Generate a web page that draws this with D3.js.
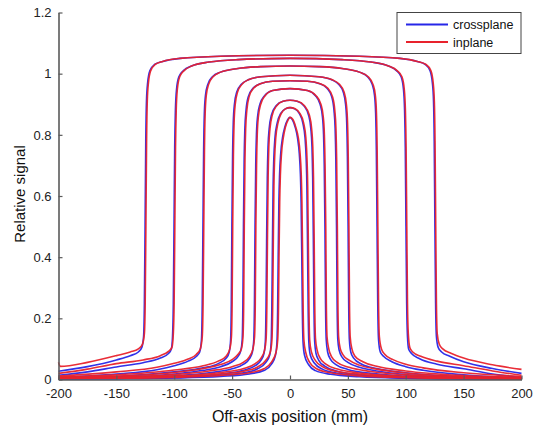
<!DOCTYPE html>
<html><head><meta charset="utf-8">
<script src="https://cdn.jsdelivr.net/npm/d3@7"></script>
<style>html,body{margin:0;padding:0;background:#fff;}svg{display:block;font-family:"Liberation Sans",Arial,sans-serif;}</style>
</head><body><svg id="c" width="535" height="431"></svg>
<script>
// Field sizes (cm) of the measured profiles
const fieldSizes = [25, 20, 15, 10, 8, 6, 4, 3, 2];
const seriesNames = ["crossplane", "inplane"];
const xTicks = [-200, -150, -100, -50, 0, 50, 100, 150, 200];
const yTicks = [0, 0.2, 0.4, 0.6, 0.8, 1, 1.2];

// crossplane profiles: [position mm, relative signal]
const crossplane = [
 [[-200,.027],[-175,.042],[-150,.064],[-138,.078],[-131,.09],[-128,.105],[-126.5,.14],[-125.8,.25],[-125.2,.5],[-124.6,.78],[-124,.91],[-123,.97],[-121,1.01],[-117,1.03],[-110,1.04],[-95,1.05],[-60,1.057],[0,1.06],
  [60,1.057],[95,1.05],[110,1.04],[117,1.03],[121,1.01],[123,.97],[124,.91],[124.6,.78],[125.2,.5],[125.8,.25],[126.5,.14],[128,.105],[131,.09],[138,.076],[150,.058],[175,.036],[200,.020]],
 [[-200,.014],[-175,.025],[-150,.041],[-127,.055],[-112,.07],[-105,.085],[-102.5,.1],[-101.5,.14],[-100.8,.25],[-100.2,.5],[-99.6,.76],[-99,.88],[-98,.95],[-96,.99],[-92,1.01],[-85,1.025],[-70,1.038],[-45,1.046],[0,1.05],
  [45,1.046],[70,1.038],[85,1.025],[92,1.01],[96,.99],[98,.95],[99,.88],[99.6,.76],[100.2,.5],[100.8,.25],[101.5,.14],[102.5,.1],[105,.085],[112,.068],[127,.05],[150,.035],[175,.018],[200,.007]],
 [[-200,.007],[-150,.018],[-115,.032],[-100,.045],[-88,.06],[-81,.075],[-78,.09],[-76.5,.13],[-75.8,.25],[-75.2,.5],[-74.6,.75],[-74,.87],[-73,.93],[-71,.965],[-67,.99],[-60,1.005],[-45,1.017],[-25,1.023],[0,1.025],
  [25,1.023],[45,1.017],[60,1.005],[67,.99],[71,.965],[73,.93],[74,.87],[74.6,.75],[75.2,.5],[75.8,.25],[76.5,.13],[78,.09],[81,.075],[88,.058],[100,.042],[115,.03],[150,.015],[200,.005]],
 [[-200,.005],[-150,.01],[-100,.025],[-75,.038],[-62,.052],[-55,.07],[-52.5,.09],[-51.3,.13],[-50.7,.25],[-50.2,.5],[-49.6,.73],[-49,.84],[-48,.9],[-46,.94],[-42,.965],[-36,.98],[-25,.99],[0,.995],
  [25,.99],[36,.98],[42,.965],[46,.94],[48,.9],[49,.84],[49.6,.73],[50.2,.5],[50.7,.25],[51.3,.13],[52.5,.09],[55,.07],[62,.05],[75,.036],[100,.022],[150,.009],[200,.004]],
 [[-200,.004],[-150,.007],[-100,.018],[-75,.03],[-60,.042],[-50,.058],[-45,.075],[-42.5,.095],[-41.3,.13],[-40.7,.25],[-40.2,.5],[-39.6,.72],[-39,.82],[-38,.88],[-36,.925],[-32,.952],[-25,.968],[-15,.975],[0,.977],
  [15,.975],[25,.968],[32,.952],[36,.925],[38,.88],[39,.82],[39.6,.72],[40.2,.5],[40.7,.25],[41.3,.13],[42.5,.095],[45,.073],[50,.056],[60,.04],[75,.028],[100,.016],[150,.006],[200,.003]],
 [[-200,.003],[-150,.005],[-100,.012],[-70,.022],[-50,.035],[-40,.05],[-35,.068],[-32.5,.09],[-31.3,.13],[-30.7,.25],[-30.2,.5],[-29.6,.7],[-29,.8],[-28,.86],[-26,.9],[-22,.928],[-15,.945],[0,.951],
  [15,.945],[22,.928],[26,.9],[28,.86],[29,.8],[29.6,.7],[30.2,.5],[30.7,.25],[31.3,.13],[32.5,.09],[35,.066],[40,.048],[50,.033],[70,.02],[100,.011],[150,.004],[200,.002]],
 [[-200,.003],[-150,.004],[-100,.008],[-60,.018],[-40,.03],[-30,.045],[-25,.063],[-22.5,.085],[-21.3,.125],[-20.7,.24],[-20.2,.45],[-19.6,.66],[-19,.76],[-18,.82],[-16,.865],[-12,.895],[-6,.91],[0,.913],
  [6,.91],[12,.895],[16,.865],[18,.82],[19,.76],[19.6,.66],[20.2,.45],[20.7,.24],[21.3,.125],[22.5,.085],[25,.062],[30,.044],[40,.028],[60,.016],[100,.007],[150,.003],[200,.002]],
 [[-200,.002],[-150,.003],[-100,.006],[-60,.014],[-40,.022],[-28,.035],[-21,.055],[-17.5,.08],[-16.3,.12],[-15.7,.23],[-15.2,.42],[-14.6,.63],[-14,.72],[-13,.79],[-11,.84],[-8,.87],[-4,.885],[0,.889],
  [4,.885],[8,.87],[11,.84],[13,.79],[14,.72],[14.6,.63],[15.2,.42],[15.7,.23],[16.3,.12],[17.5,.08],[21,.054],[28,.034],[40,.021],[60,.013],[100,.005],[150,.002],[200,.001]],
 [[-200,.002],[-150,.003],[-100,.005],[-60,.01],[-35,.018],[-22,.03],[-16,.05],[-12.5,.08],[-11.3,.12],[-10.7,.22],[-10.2,.4],[-9.6,.58],[-9,.67],[-8,.74],[-6.5,.79],[-4.5,.825],[-2,.85],[0,.857],
  [2,.85],[4.5,.825],[6.5,.79],[8,.74],[9,.67],[9.6,.58],[10.2,.4],[10.7,.22],[11.3,.12],[12.5,.08],[16,.049],[22,.029],[35,.017],[60,.009],[100,.004],[150,.002],[200,.001]]
];

// inplane profiles: [position mm, relative signal]
const inplane = [
 [[-200,.056],[-198.5,.043],[-175,.056],[-150,.078],[-138,.09],[-131,.1],[-127.5,.115],[-125.8,.15],[-125.1,.25],[-124.5,.5],[-123.9,.78],[-123.3,.91],[-122.3,.97],[-120.3,1.01],[-116.5,1.03],[-110,1.04],[-95,1.05],[-60,1.057],[0,1.06],
  [60,1.057],[95,1.05],[110,1.04],[117.5,1.03],[121.7,1.01],[123.7,.97],[124.7,.91],[125.3,.78],[125.9,.5],[126.5,.25],[127.2,.15],[129,.115],[132,.1],[139,.086],[150,.07],[175,.048],[200,.033]],
 [[-200,.02],[-175,.034],[-150,.052],[-127,.064],[-112,.078],[-105,.092],[-102,.105],[-100.8,.15],[-100.1,.25],[-99.5,.5],[-98.9,.76],[-98.3,.88],[-97.3,.95],[-95.3,.99],[-91.5,1.01],[-85,1.025],[-70,1.038],[-45,1.046],[0,1.05],
  [45,1.046],[70,1.038],[85,1.025],[92.5,1.01],[96.7,.99],[98.7,.95],[99.7,.88],[100.3,.76],[100.9,.5],[101.5,.25],[102.2,.15],[103.5,.105],[106,.09],[113,.076],[127,.06],[150,.045],[175,.028],[200,.014]],
 [[-200,.011],[-150,.025],[-115,.04],[-100,.053],[-88,.067],[-81,.082],[-77.5,.1],[-75.8,.14],[-75.1,.25],[-74.5,.5],[-73.9,.75],[-73.3,.87],[-72.3,.93],[-70.3,.965],[-66.5,.99],[-60,1.005],[-45,1.017],[-25,1.023],[0,1.025],
  [25,1.023],[45,1.017],[60,1.005],[67.5,.99],[71.7,.965],[73.7,.93],[74.7,.87],[75.3,.75],[75.9,.5],[76.5,.25],[77.2,.14],[79,.1],[82,.082],[89,.065],[100,.05],[115,.038],[150,.022],[200,.01]],
 [[-200,.008],[-150,.015],[-100,.031],[-75,.045],[-62,.06],[-55,.077],[-52,.1],[-50.6,.14],[-50,.25],[-49.5,.5],[-48.9,.73],[-48.3,.84],[-47.3,.9],[-45.3,.94],[-41.5,.965],[-36,.98],[-25,.99],[0,.995],
  [25,.99],[36.5,.98],[42.7,.965],[46.7,.94],[48.7,.9],[49.7,.84],[50.3,.73],[50.9,.5],[51.4,.25],[52,.14],[53.5,.1],[56,.077],[63,.058],[75,.043],[100,.028],[150,.013],[200,.007]],
 [[-200,.006],[-150,.011],[-100,.023],[-75,.036],[-60,.049],[-50,.065],[-45,.082],[-42,.1],[-40.6,.14],[-40,.25],[-39.5,.5],[-38.9,.72],[-38.3,.82],[-37.3,.88],[-35.3,.925],[-31.5,.952],[-25,.968],[-15,.975],[0,.977],
  [15,.975],[25.5,.968],[32.7,.952],[36.7,.925],[38.7,.88],[39.7,.82],[40.3,.72],[40.9,.5],[41.4,.25],[42,.14],[43.5,.1],[46,.08],[51,.063],[60,.047],[75,.034],[100,.021],[150,.009],[200,.005]],
 [[-200,.005],[-150,.008],[-100,.016],[-70,.028],[-50,.042],[-40,.057],[-35,.075],[-32,.1],[-30.6,.14],[-30,.25],[-29.5,.5],[-28.9,.7],[-28.3,.8],[-27.3,.86],[-25.3,.9],[-21.5,.928],[-15,.945],[0,.951],
  [15,.945],[22.5,.928],[26.7,.9],[28.7,.86],[29.7,.8],[30.3,.7],[30.9,.5],[31.4,.25],[32,.14],[33.5,.1],[36,.074],[41,.055],[51,.04],[70,.026],[100,.015],[150,.007],[200,.004]],
 [[-200,.004],[-150,.006],[-100,.011],[-60,.023],[-40,.036],[-30,.052],[-25,.07],[-22,.095],[-20.6,.135],[-20,.24],[-19.5,.45],[-18.9,.66],[-18.3,.76],[-17.3,.82],[-15.3,.865],[-11.5,.895],[-6,.91],[0,.913],
  [6.5,.91],[12.5,.895],[16.7,.865],[18.7,.82],[19.7,.76],[20.3,.66],[20.9,.45],[21.4,.24],[22,.135],[23.5,.095],[26,.07],[31,.05],[41,.034],[60,.021],[100,.01],[150,.005],[200,.003]],
 [[-200,.004],[-150,.005],[-100,.009],[-60,.018],[-40,.027],[-28,.041],[-21,.062],[-17,.09],[-15.6,.13],[-15,.23],[-14.5,.42],[-13.9,.63],[-13.3,.72],[-12.3,.79],[-10.3,.84],[-7.5,.87],[-4,.885],[0,.889],
  [4.5,.885],[8.5,.87],[11.7,.84],[13.7,.79],[14.7,.72],[15.3,.63],[15.9,.42],[16.4,.23],[17,.13],[18.5,.09],[22,.062],[29,.04],[41,.026],[60,.017],[100,.008],[150,.004],[200,.002]],
 [[-200,.003],[-150,.004],[-100,.007],[-60,.013],[-35,.022],[-22,.036],[-16,.057],[-12,.09],[-10.6,.13],[-10,.22],[-9.5,.4],[-8.9,.58],[-8.3,.67],[-7.3,.74],[-5.8,.79],[-4,.825],[-1.5,.85],[0,.857],
  [2.5,.85],[5,.825],[7.2,.79],[8.7,.74],[9.7,.67],[10.3,.58],[10.9,.4],[11.4,.22],[12,.13],[13.5,.09],[17,.056],[23,.035],[36,.021],[60,.012],[100,.006],[150,.003],[200,.002]]
];

const colors = {crossplane: "#2626e8", inplane: "#e8222c"};

const svg = d3.select("#c");
const x = d3.scaleLinear().domain([-200, 200]).range([58.5, 521.5]);
const y = d3.scaleLinear().domain([0, 1.2]).range([379.5, 12.5]);
const axisColor = "#5a5a5a";

const line = d3.line().x(d => x(d[0])).y(d => y(d[1])).curve(d3.curveMonotoneX);

const plot = svg.append("g");
[["crossplane", crossplane], ["inplane", inplane]].forEach(([name, set]) => {
  plot.append("g").selectAll("path").data(set).join("path")
    .attr("d", line)
    .attr("fill", "none")
    .attr("stroke", colors[name])
    .attr("stroke-width", 1.6)
    .attr("stroke-opacity", 0.95);
});

const fmt = d => String(d);  // plain hyphen-minus, as in the reference

const xAxis = svg.append("g").attr("transform", `translate(0,${y(0)})`)
  .call(d3.axisBottom(x).tickValues(xTicks).tickSizeInner(-4).tickSizeOuter(0).tickPadding(9).tickFormat(fmt));
const yAxis = svg.append("g").attr("transform", `translate(${x(-200)},0)`)
  .call(d3.axisLeft(y).tickValues(yTicks).tickSizeInner(-4).tickSizeOuter(0).tickPadding(7).tickFormat(fmt));
[xAxis, yAxis].forEach(g => {
  g.select(".domain").attr("stroke", axisColor).attr("stroke-width", 1.6);
  g.selectAll(".tick line").attr("stroke", axisColor).attr("stroke-width", 1.2);
  g.selectAll(".tick text").attr("fill", "#222").attr("font-size", 13).attr("font-family", "Liberation Sans, Arial, sans-serif");
});

svg.append("text").attr("x", 290).attr("y", 422).attr("text-anchor", "middle")
  .attr("font-size", 16).attr("fill", "#111").text("Off-axis position (mm)");
svg.append("text").attr("transform", "translate(25,194) rotate(-90)").attr("text-anchor", "middle")
  .attr("font-size", 15).attr("fill", "#111").text("Relative signal");

// legend
const lg = svg.append("g");
lg.append("rect").attr("x", 397).attr("y", 12.5).attr("width", 124).attr("height", 41)
  .attr("fill", "#fff").attr("stroke", "#444").attr("stroke-width", 1);
seriesNames.forEach((n, i) => {
  const yy = 24.5 + i * 17.5;
  lg.append("line").attr("x1", 406).attr("x2", 448).attr("y1", yy).attr("y2", yy)
    .attr("stroke", colors[n]).attr("stroke-width", 1.8);
  lg.append("text").attr("x", 453).attr("y", yy + 4.5).attr("font-size", 12.5).attr("fill", "#111").text(n);
});
</script></body></html>
